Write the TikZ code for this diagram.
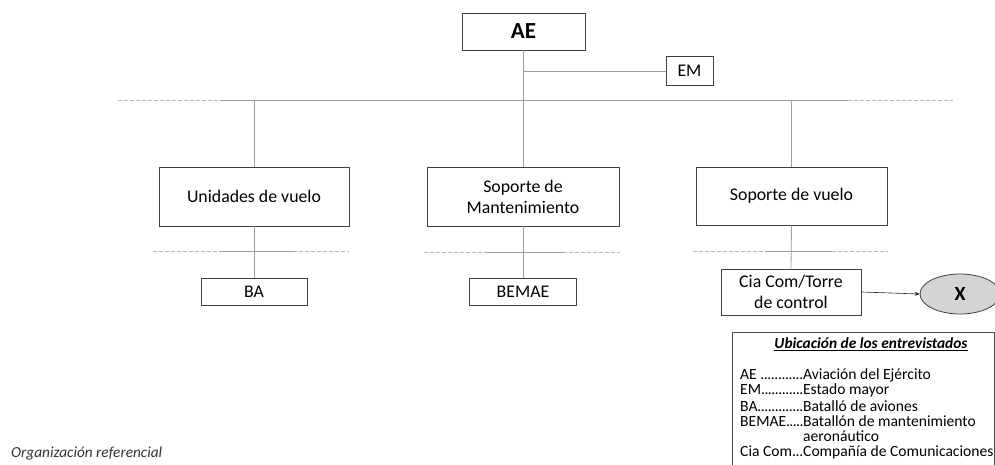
\documentclass[tikz,border=0pt]{standalone}
\usepackage{fontspec}
\setmainfont{Carlito}
\usetikzlibrary{arrows.meta,shapes.geometric}
\newcommand\lgdots{\xleaders\hbox to 3.3pt{\hss.\hss}\hfill}
\begin{document}
\begin{tikzpicture}[x=1pt,y=-1pt,
  box/.style={draw=black!75, line width=0.8pt, fill=white, align=center, inner sep=0pt,
    font=\fontsize{17.8}{21}\selectfont},
  conn/.style={draw=black!38, line width=0.8pt},
  dline/.style={draw=black!28, line width=0.8pt, dash pattern=on 3.5pt off 2.5pt},
  lg/.style={anchor=west, inner sep=0pt, font=\fontsize{15.6}{18}\selectfont},
  arr/.style={draw=black!85, line width=0.6pt, -{Stealth[length=5pt,width=4pt]}}]
\useasboundingbox (0,0) rectangle (995,465);
\clip (0,0) rectangle (995,465);
\fill[white] (0,0) rectangle (995,465);

% bus coordinates
\coordinate (bl1) at (118,100);
\coordinate (bl2) at (220,100);
\coordinate (br1) at (848,100);
\coordinate (br2) at (953,100);
\coordinate (emj) at (523,71);

% nodes
\node[box, minimum width=123pt, minimum height=37pt, font=\fontsize{23}{27}\selectfont\bfseries] (AE) at (523.5,31.5) {AE};
\node[box, minimum width=47pt, minimum height=29pt] (EM) at (689.5,71) {EM};
\node[box, minimum width=190pt, minimum height=59pt] (UV) at (254,196.5) {Unidades de vuelo};
\node[box, minimum width=192pt, minimum height=59pt] (SM) at (523,196.5) {Soporte de\\Mantenimiento};
\node[box, minimum width=191pt, minimum height=58pt] (SV) at (791.5,196) {Soporte de vuelo};
\node[box, minimum width=106pt, minimum height=27pt] (BA) at (254,291.5) {BA};
\node[box, minimum width=107pt, minimum height=27pt] (BEMAE) at (523,291.5) {BEMAE};
\node[box, minimum width=140pt, minimum height=46pt] (CC) at (791,292) {Cia Com/Torre\\de control};
\node[ellipse, draw=black!75, line width=0.8pt, fill=black!17, minimum width=80pt, minimum height=40pt,
  inner sep=0pt, font=\fontsize{20}{24}\selectfont\bfseries] (X) at (960,294) {X};

% sub-bus coordinates
\coordinate (u1) at (153,251); \coordinate (u2) at (220,251); \coordinate (u3) at (293,251); \coordinate (u4) at (349,251);
\coordinate (m1) at (424,252); \coordinate (m2) at (487,252); \coordinate (m3) at (563,252); \coordinate (m4) at (620,252);
\coordinate (s1) at (693,251); \coordinate (s2) at (765,251); \coordinate (s3) at (832,251); \coordinate (s4) at (888,251);

% top connectors
\draw[conn] (AE.south) -- (AE.south |- bl2);
\draw[conn] (emj) -- (EM.west);
\draw[dline] (bl1) -- (bl2);
\draw[conn] (bl2) -- (br1);
\draw[dline] (br1) -- (br2);
\draw[conn] (UV.north) -- (UV.north |- bl2);
\draw[conn] (SV.north) -- (SV.north |- bl2);
\draw[conn] (SM.north) -- (SM.north |- bl2);

% lower connectors
\draw[dline] (u1) -- (u2); \draw[conn] (u2) -- (u3); \draw[dline] (u3) -- (u4);
\draw[dline] (m1) -- (m2); \draw[conn] (m2) -- (m3); \draw[dline] (m3) -- (m4);
\draw[dline] (s1) -- (s2); \draw[conn] (s2) -- (s3); \draw[dline] (s3) -- (s4);
\draw[conn] (UV.south) -- (BA.north);
\draw[conn] (SM.south) -- (BEMAE.north);
\draw[conn] (SV.south) -- (CC.north);
\draw[arr] (CC.east) -- (X.west);

% legend
\draw[draw=black!70, line width=0.8pt] (732,466) -- (732,332) -- (994,332) -- (994,466);
\node[inner sep=0pt, font=\fontsize{15.4}{18}\selectfont] (lt) at (871,344) {\underline{\textbf{\textit{Ubicación de los entrevistados}}}};
\node[lg] (l1) at (740,375) {\hbox to 63pt{AE \lgdots}Aviación del Ejército};
\node[lg] (l2) at (740,390.5) {\hbox to 63pt{EM\lgdots}Estado mayor};
\node[lg] (l3) at (740,406) {\hbox to 63pt{BA\lgdots}Batalló de aviones};
\node[lg] (l4) at (740,421) {\hbox to 63pt{BEMAE\lgdots}Batallón de mantenimiento};
\node[lg] (l5) at (803,436.5) {aeronáutico};
\node[lg] (l6) at (740,452) {\hbox to 63pt{Cia Com\lgdots}Compañía de Comunicaciones};

\node[anchor=west, inner sep=0pt, font=\fontsize{15.3}{18}\selectfont\itshape, text=black!80] (org) at (11,453) {Organización referencial};
\end{tikzpicture}
\end{document}
